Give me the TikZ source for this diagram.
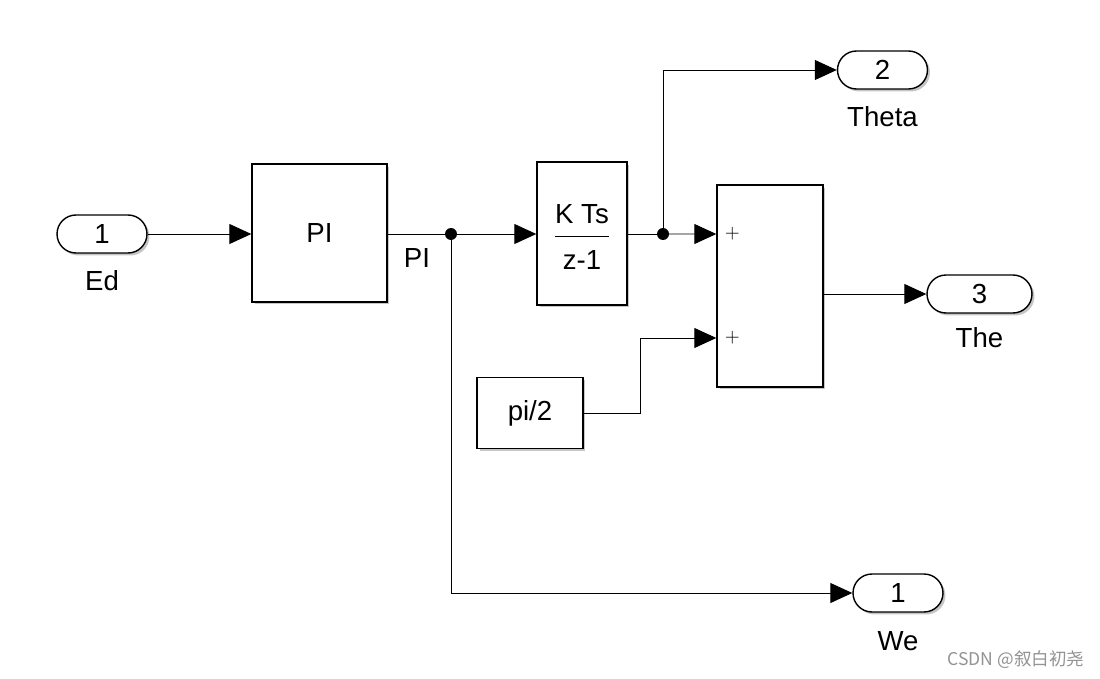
\documentclass[tikz,border=0pt]{standalone}
\usepackage{fontspec}
\setmainfont{Liberation Sans}
\newfontfamily\cjk{Noto Sans CJK SC}
\usetikzlibrary{arrows.meta,shapes.misc,shadows,positioning}

\tikzset{
  blk/.style={draw, line width=0.8pt, fill=white,
    drop shadow={shadow xshift=0.05cm, shadow yshift=-0.05cm, fill=black!50, opacity=0.45}},
  port/.style={blk, rounded rectangle, minimum width=1.8cm, minimum height=0.76cm, inner sep=0pt},
  sig/.style={line width=0.55pt, -{Triangle[length=0.44cm, width=0.4cm]}},
  wire/.style={line width=0.55pt},
  jn/.style={circle, fill, inner sep=0pt, minimum size=0.24cm},
}

\begin{document}
\begin{tikzpicture}[x=0.02cm, y=-0.02cm, font=\fontsize{15.7}{19}\selectfont]
    \useasboundingbox (0,0) rectangle (1100,679);
    \node [port] (ed) at (102,234) {1};
    \node [below=0.22cm of ed] (edl) {Ed};
    \node [blk, minimum width=2.7cm, minimum height=2.76cm] (pi) at (319.5,233) {PI};
    \node [blk, minimum width=1.8cm, minimum height=2.86cm] (int) at (582,233.5)
        {\raisebox{-0.26cm}[0pt][0pt]{\begin{tabular}{@{}c@{}}K Ts\\[1pt]\hline\rule{0pt}{19pt}z-1\end{tabular}}};
    \node [blk, minimum width=2.12cm, minimum height=4.04cm] (sum) at (770,286) {};
    \node [blk, minimum width=2.12cm, minimum height=1.42cm] (half) at (530,413) {pi/2};
    \node [port] (theta) at (882.5,70) {2};
    \node [below=0.22cm of theta] (thetal) {Theta};
    \node [port, minimum width=2.1cm] (the) at (979.5,294) {3};
    \node [below=0.16cm of the] (thel) {The};
    \node [port] (we) at (898,593) {1};
    \node [below=0.26cm of we] (wel) {We};
    \node (pil) at (417,258) {PI};

    \coordinate (j1) at (451,234);
    \coordinate (j2) at (663,234);
    \coordinate (s1) at ([yshift=1.04cm]sum.west);
    \coordinate (s2) at ([yshift=-1.04cm]sum.west);
    \node [font=\fontsize{11}{11}\selectfont] (p1) at ([xshift=0.32cm]s1) {$+$};
    \node [font=\fontsize{11}{11}\selectfont] (p2) at ([xshift=0.32cm]s2) {$+$};

    \draw [sig] (ed.east) -- (ed.east -| pi.west);
    \draw [wire] (pi.east |- j1) -- (j1);
    \draw [sig] (j1) -- (j1 -| int.west);
    \draw [sig] (j1) |- (we.west);
    \draw [wire] (int.east |- j2) -- (j2);
    \draw [sig] (j2) -- (s1);
    \draw [sig] (j2) |- (theta.west);
    \draw [sig] (half.east) -- ++(1.14cm,0) |- (s2);
    \draw [sig] (the.west -| sum.east) -- (the.west);
    \node [jn] at (j1) {};
    \node [jn] at (j2) {};

    %\node [draw] at (sum) {};
    \node [text=gray!85, font=\cjk\fontsize{10}{10}\selectfont] (wm) at (1016,660) {CSDN @叙白初尧};
\end{tikzpicture}
\end{document}
